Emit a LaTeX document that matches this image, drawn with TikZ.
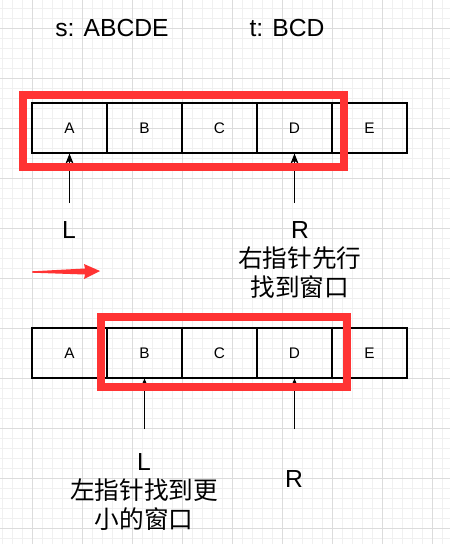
\documentclass[tikz,border=0pt]{standalone}
\usepackage{fontspec}
\setmainfont{Liberation Sans}
\newfontfamily\cjk{Noto Sans CJK SC}
\usetikzlibrary{arrows.meta}
\definecolor{winred}{HTML}{FF3333}
\definecolor{gridmajor}{HTML}{DCDCDC}
\definecolor{gridminor}{HTML}{F0F0F0}

\begin{document}
\begin{tikzpicture}[x=0.75pt,y=-0.75pt,
  cell/.style={draw,line width=0.9pt,minimum width=56.25pt,minimum height=37.5pt,inner sep=0pt,font=\fontsize{11.5}{13}\selectfont},
  big/.style={font=\fontsize{18.5}{21.75}\selectfont,align=center,inner sep=0pt,anchor=base},
  ptr/.style={line width=0.9pt,-{Stealth[length=7.5pt,width=6pt,inset=2pt]}},
  ptrsmall/.style={line width=0.9pt,-{Stealth[length=4pt,width=3.5pt]}},
  window/.style={draw=winred,line width=6pt}]
\useasboundingbox (0,0) rectangle (450,544);
\fill[white] (0,0) rectangle (450,544);
% grid
\foreach \x in {2,12,...,442} \draw[gridminor,line width=0.75pt] (\x,0) -- (\x,544);
\foreach \y in {8,18,...,538} \draw[gridminor,line width=0.75pt] (0,\y) -- (450,\y);
\foreach \x in {32,82,...,432} \draw[gridmajor,line width=0.75pt] (\x,0) -- (\x,544);
\foreach \y in {28,78,...,528} \draw[gridmajor,line width=0.75pt] (0,\y) -- (450,\y);

% strings
\node[big,anchor=center] (strs) at (112,28) {s: ABCDE};
\node[big,anchor=center] (strt) at (287,28) {t: BCD};

% first step
\node[cell] (topA) at (69.5,128) {A};
\node[cell] (topB) at (144.5,128) {B};
\node[cell] (topC) at (219.5,128) {C};
\node[cell] (topD) at (294.5,128) {D};
\node[cell] (topE) at (369.5,128) {E};
\coordinate (topLtail) at (69.5,203);
\coordinate (topRtail) at (294.5,203);
\draw[ptr] (topLtail) -- (topA.south);
\draw[ptr] (topRtail) -- (topD.south);
\draw[window] (23,95) rectangle (344,167);
\node[big] (topL) at (69,238) {L};
\node[big] (topR) at (300,296) {R\\{\cjk 右指针先行}\\{\cjk 找到窗口}};

% move
\fill[winred] (32,271.3) -- (85,268.5) -- (84,264) -- (100,271) -- (84,279) -- (85,274.5) -- (32,272.7) -- cycle;

% second step
\node[cell] (botA) at (69.5,353) {A};
\node[cell] (botB) at (144.5,353) {B};
\node[cell] (botC) at (219.5,353) {C};
\node[cell] (botD) at (294.5,353) {D};
\node[cell] (botE) at (369.5,353) {E};
\coordinate (botLtail) at (144.5,429);
\coordinate (botRtail) at (294.5,429);
\draw[ptrsmall] (botLtail) -- (botB.south);
\draw[ptrsmall] (botRtail) -- (botD.south);
\draw[window] (100.5,317) rectangle (346.5,387);
\node[big] (botL) at (144,528) {L\\{\cjk 左指针找到更}\\{\cjk 小的窗口}};
\node[big] (botR) at (294,487) {R};
\end{tikzpicture}
\end{document}
